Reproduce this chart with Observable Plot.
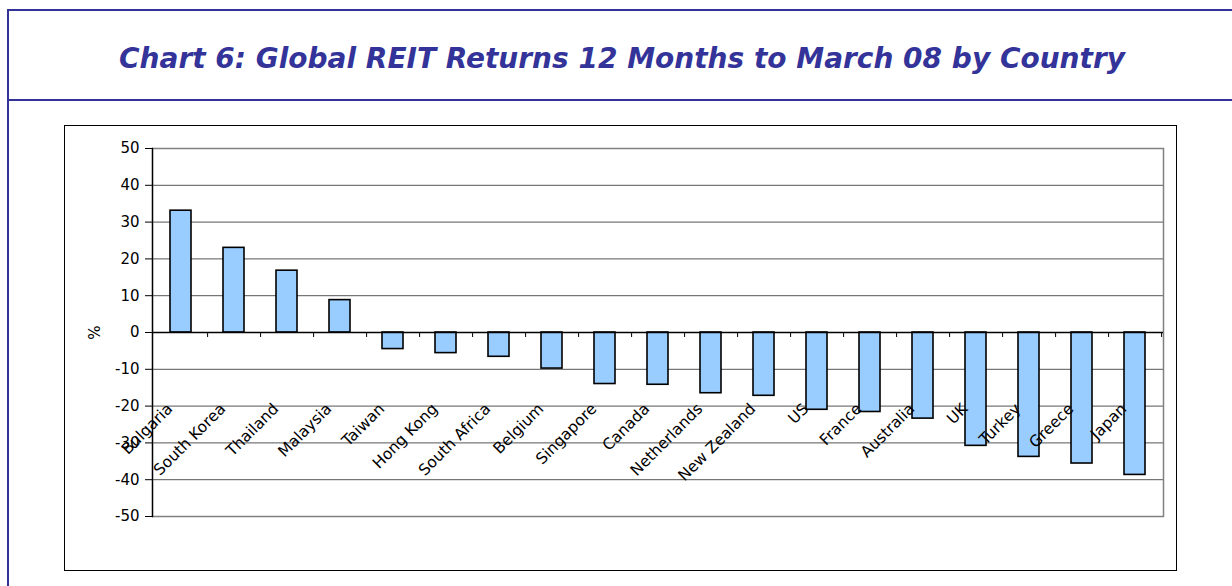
<!DOCTYPE html>
<html>
<head>
<meta charset="utf-8">
<script src="https://cdn.jsdelivr.net/npm/d3@7"></script>
<script src="https://cdn.jsdelivr.net/npm/@observablehq/plot@0.6"></script>
<style>
  html, body { margin: 0; padding: 0; background: #fff; }
  body { width: 1232px; height: 586px; overflow: hidden; position: relative; font-family: "DejaVu Sans", Verdana, sans-serif; }
  #frame { position: absolute; left: 7px; top: 9px; width: 1300px; height: 700px; border-left: 2px solid #333399; border-top: 2px solid #333399; box-sizing: border-box; }
  #title { position: absolute; left: 9px; top: 11px; width: 1226px; height: 90px; border-bottom: 2px solid #333399; box-sizing: border-box; text-align: center; line-height: 95px; color: #333399; font-family: "DejaVu Sans", Verdana, sans-serif; font-weight: bold; font-style: italic; font-size: 28px; white-space: nowrap; }
  #box { position: absolute; left: 64px; top: 125px; width: 1113px; height: 446px; border: 1px solid #000; box-sizing: border-box; }
  #chart { position: absolute; left: 64px; top: 125px; }
</style>
</head>
<body>
<div id="frame"></div>
<div id="title">Chart 6: Global REIT Returns 12 Months to March 08 by Country</div>
<div id="box"></div>
<div id="chart"></div>
<script>
const countries = ["Bulgaria", "South Korea", "Thailand", "Malaysia", "Taiwan", "Hong Kong", "South Africa", "Belgium", "Singapore", "Canada", "Netherlands", "New Zealand", "US", "France", "Australia", "UK", "Turkey", "Greece", "Japan"];
const returns = [33.1, 23.0, 16.8, 8.8, -4.5, -5.6, -6.6, -9.8, -14.0, -14.2, -16.5, -17.2, -21.0, -21.6, -23.4, -30.8, -33.8, -35.6, -38.7];
const yTicks = [50, 40, 30, 20, 10, 0, -10, -20, -30, -40, -50];

const data = countries.map((c, i) => ({country: c, value: returns[i]}));

const W = 1113, H = 446;
const mL = 88, mR = 14, mT = 23, mB = 55;
const step = (W - mL - mR) / countries.length;

const chart = Plot.plot({
  width: W,
  height: H,
  marginLeft: mL,
  marginRight: mR,
  marginTop: mT,
  marginBottom: mB,
  style: {fontFamily: "DejaVu Sans, Verdana, sans-serif", fontSize: "14px", color: "#000", background: "transparent"},
  x: {domain: countries, paddingInner: 0.6, paddingOuter: 0.3, axis: null},
  y: {domain: [-50, 50], axis: null},
  marks: [
    Plot.gridY(yTicks, {stroke: "#555", strokeOpacity: 1}),
    Plot.frame({stroke: "#808080", strokeWidth: 1.5}),
    Plot.barY(data, {x: "country", y: "value", fill: "#99CCFF", stroke: "#000", strokeWidth: 1.6}),
    Plot.ruleY([0], {stroke: "#000", strokeWidth: 1.3}),
    Plot.ruleX(countries, {x: d => d, y1: 0, y2: 0, dx: step / 2, insetBottom: -5, stroke: "#000"}),
    Plot.frame({anchor: "left", stroke: "#000", strokeWidth: 1.3}),
    Plot.axisY({ticks: yTicks, tickSize: 7, tickPadding: 6, tickFormat: d => String(d), label: "%", labelAnchor: "center", labelArrow: "none", labelOffset: 63, fontSize: 15}),
    Plot.axisX({tickSize: 0, tickRotate: -45, dy: -122, dx: -11, fontSize: 15.5, label: null})
  ]
});
document.getElementById("chart").appendChild(chart);
</script>
</body>
</html>
